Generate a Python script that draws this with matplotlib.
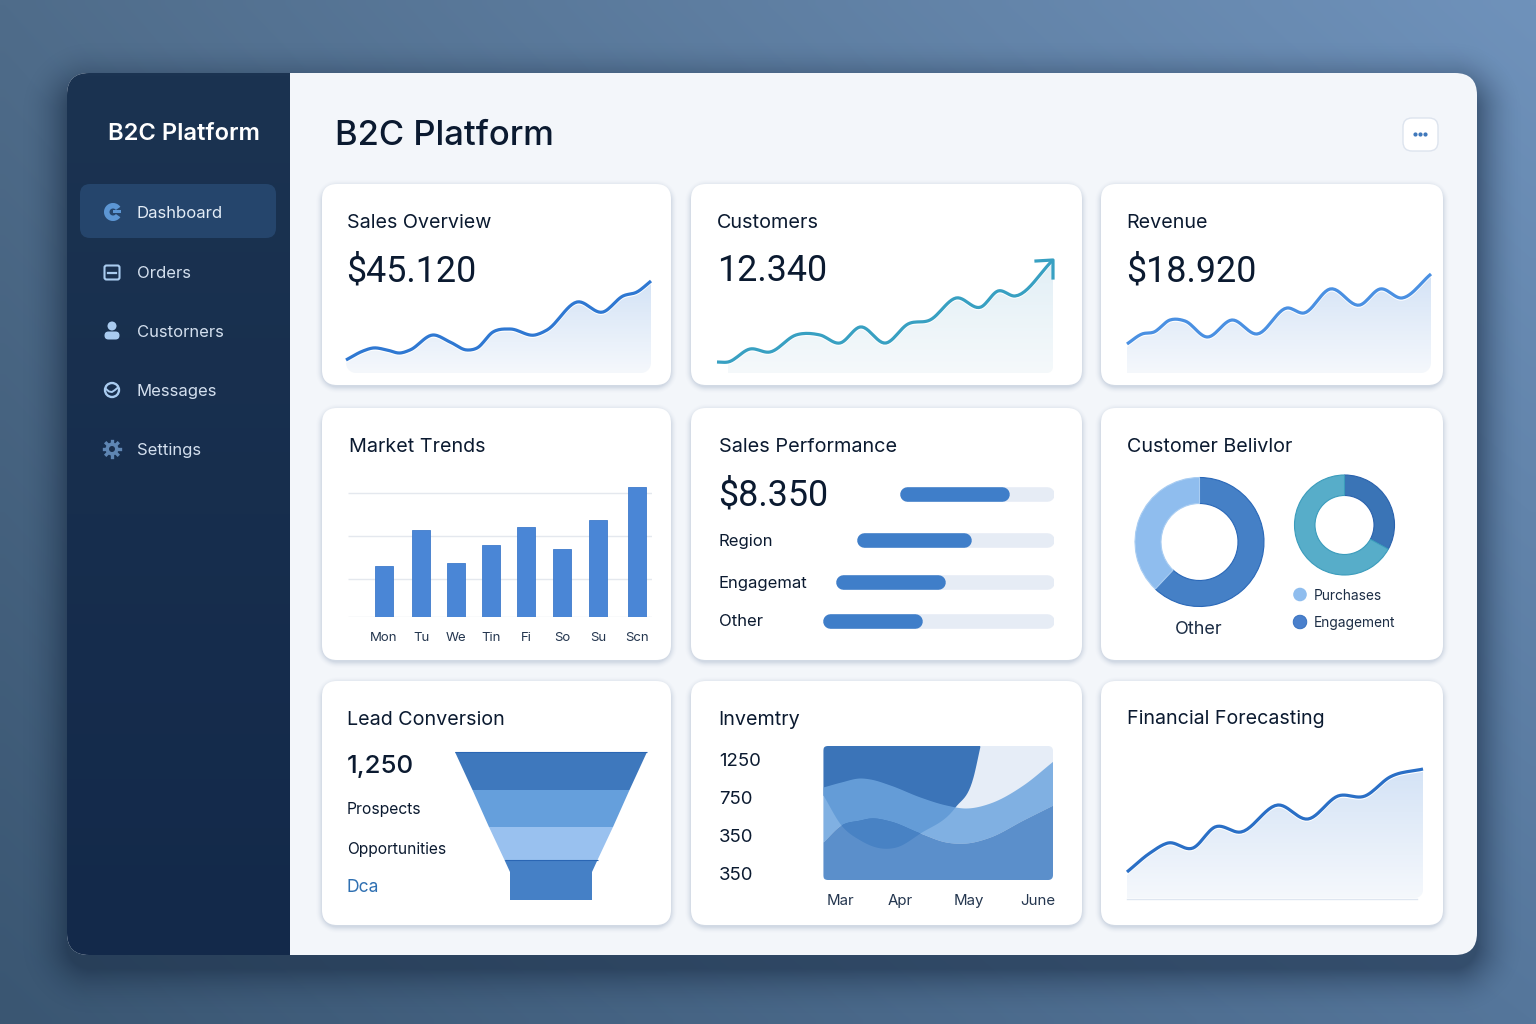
#!/usr/bin/env python3
"""B2C Platform dashboard mockup drawn with matplotlib."""

import numpy as np
import matplotlib
matplotlib.use("Agg")
import matplotlib.pyplot as plt
from matplotlib.patches import FancyBboxPatch, Circle, Polygon, Wedge, Rectangle
from matplotlib.colors import to_rgb

W, H = 1536, 1024
plt.rcParams['font.family'] = ['Inter', 'DejaVu Sans']

# ---- data ----
sales_x = [0, 17, 27, 41, 54, 64, 87, 104, 121, 131, 147, 164, 189, 201, 231, 257, 277, 291, 305]
sales_y = [13, 22, 25, 23, 20, 23, 38, 31, 23, 25, 41, 44, 38, 43, 71, 61, 77, 81, 92]

customers_x = [0, 11, 33, 53, 79, 103, 123, 143, 169, 191, 213, 239, 264, 281, 298, 336]
customers_y = [11, 11, 24, 21, 38, 38, 30, 46, 30, 49, 53, 75, 66, 82, 77, 113]

revenue_x = [0, 15, 27, 43, 58, 80, 105, 130, 160, 177, 203, 233, 253, 275, 304]
revenue_y = [29, 39, 41, 53, 52, 36, 53, 39, 65, 60, 84, 68, 84, 75, 99]

forecast_x = [0, 23, 41, 66, 88, 114, 151, 181, 211, 238, 263, 296]
forecast_y = [26, 45, 55, 50, 71, 66, 93, 79, 102, 102, 121, 129]

market_days = ['Mon', 'Tu', 'We', 'Tin', 'Fi', 'So', 'Su', 'Scn']
market_pos = [36, 73, 108, 143, 178, 214, 250, 289]
market_vals = [51, 87, 54, 72, 90, 68, 97, 130]
market_grid = [0, 38, 81, 124]

perf_labels = ['Region', 'Engagemat', 'Other']
perf_vals = [0.71, 0.58, 0.50, 0.43]

donut_left = [62, 38]
donut_right = [33, 67]

funnel_widths = [192, 157, 124, 93, 82, 82]
funnel_levels = [148, 110, 73, 40, 28, 0]

inv_x = [0, 18, 37, 47, 67, 97, 123, 143, 167, 200, 230]
inv_top = [93, 98, 102, 101, 95, 83, 75, 72, 77, 95, 119]  # band upper edge
inv_low = [38, 55, 60, 62, 59, 47, 38, 37, 43, 60, 75]     # band lower edge
blob_x = [0, 18, 37, 58, 73, 97, 132, 150, 157]
blob_low = [85, 55, 40, 32, 33, 47, 73, 103, 134]
inv_ticks = ['1250', '750', '350', '350']
inv_months = ['Mar', 'Apr', 'May', 'June']

nav_items = ['Dashboard', 'Orders', 'Custorners', 'Messages', 'Settings']

DARK = '#0b1a30'
NUM_FONT = ['Roboto', 'DejaVu Sans']


def px_axes(x0, y0, x1, y1, zorder=5):
    ax = fig.add_axes([x0 / W, 1 - y1 / H, (x1 - x0) / W, (y1 - y0) / H], zorder=zorder)
    ax.set_axis_off()
    ax.patch.set_alpha(0)
    return ax


def smooth(x, y, n=12):
    """Hermite curve through the read points, only to draw them without kinks."""
    x, y = np.asarray(x, float), np.asarray(y, float)
    m = np.gradient(y, x)
    xs, ys = [], []
    for i in range(len(x) - 1):
        t = np.linspace(0, 1, n, endpoint=False)
        h = x[i + 1] - x[i]
        ys.append((2*t**3 - 3*t**2 + 1) * y[i] + (t**3 - 2*t**2 + t) * h * m[i]
                  + (-2*t**3 + 3*t**2) * y[i + 1] + (t**3 - t**2) * h * m[i + 1])
        xs.append(x[i] + t * h)
    return np.append(np.concatenate(xs), x[-1]), np.append(np.concatenate(ys), y[-1])


def rounded_rect_dist(X, Y, x0, y0, x1, y1, r):
    cx, cy = (x0 + x1) / 2, (y0 + y1) / 2
    qx = np.abs(X - cx) - (x1 - x0) / 2 + r
    qy = np.abs(Y - cy) - (y1 - y0) / 2 + r
    return np.hypot(np.maximum(qx, 0), np.maximum(qy, 0)) + np.minimum(np.maximum(qx, qy), 0) - r


def shadow(rects, color, alpha, blur, dy, r, zorder):
    X, Y = np.meshgrid(np.arange(W) + .5, np.arange(H) + .5)
    a = np.zeros((H, W))
    for (x0, x1, y0, y1) in rects:
        d = rounded_rect_dist(X, Y, x0, y0 + dy, x1, y1 + dy, r)
        a = np.maximum(a, np.clip(1 - d / blur, 0, 1) ** 2 * alpha)
    img = np.zeros((H, W, 4))
    img[..., :3] = to_rgb(color)
    img[..., 3] = a
    bg.imshow(img, extent=[0, W, H, 0], aspect='auto', zorder=zorder, interpolation='bilinear')


def vgrad(top, bottom, n=256):
    img = np.zeros((n, 1, 3))
    t = np.linspace(0, 1, n)[:, None]
    img[:, 0, :] = np.array(to_rgb(top)) * (1 - t) + np.array(to_rgb(bottom)) * t
    return img


def label(x, y, s, size, color=DARK, weight='normal', ha='left', zorder=8, family=None):
    kw = {'family': family} if family else {}
    bg.text(x, y + size * 0.13, s, fontsize=size, color=color, fontweight=weight, ha=ha, va='center', zorder=zorder, **kw)


def spark(x0, x1, base, top, xs, ys, color, rl=10, rr=10, fill_from=0, grad_top='#d4e3f6', grad_bot='#f5f8fc'):
    ax = px_axes(x0, top, x1, base)
    cx, cy = smooth(xs, ys)
    ax.set_xlim(0, x1 - x0)
    ax.set_ylim(0, base - top)
    keep = cx >= fill_from
    th = np.linspace(0, np.pi / 2, 8)
    verts = list(zip(cx[keep], cy[keep]))
    xr, xl = cx[-1], max(fill_from, cx[0])
    verts += [(xr - rr + rr * np.cos(t), rr - rr * np.sin(t)) for t in th]
    verts += [(xl + rl - rl * np.sin(t), rl - rl * np.cos(t)) for t in th]
    poly = Polygon(verts, closed=True, fc='none', ec='none', transform=ax.transData)
    ax.add_patch(poly)
    im = ax.imshow(vgrad(grad_top, grad_bot), extent=[0, x1 - x0, 0, max(ys)], aspect='auto', zorder=1)
    im.set_clip_path(poly)
    ax.set_xlim(0, x1 - x0)
    ax.set_ylim(0, base - top)
    ax.plot(cx, cy - 1.2, color='white', lw=2.2, zorder=2, clip_on=False)
    ax.plot(cx, cy, color=color, lw=2.3, zorder=3, solid_capstyle='butt', clip_on=False)
    return ax


fig = plt.figure(figsize=(W / 100, H / 100), dpi=100)
bg = fig.add_axes([0, 0, 1, 1], zorder=0)
bg.set_axis_off()

# ---- backdrop ----
u, v = np.meshgrid(np.linspace(0, 1, 160), np.linspace(0, 1, 110))
corners = [to_rgb(c) for c in ('#4f6c8a', '#6f92bb', '#3a5672', '#55769b')]
back = np.zeros((110, 160, 3))
for k in range(3):
    back[..., k] = ((1 - u) * (1 - v) * corners[0][k] + u * (1 - v) * corners[1][k]
                    + (1 - u) * v * corners[2][k] + u * v * corners[3][k])
bg.imshow(back, extent=[0, W, H, 0], aspect='auto', zorder=0, interpolation='bilinear')

# ---- panel and sidebar ----
shadow([(67, 1477, 73, 955)], '#14263e', 0.5, 48, 14, 24, 1)
panel = FancyBboxPatch((67 + 22, 73 + 22), 1410 - 44, 882 - 44, boxstyle='round,pad=22,rounding_size=22',
                       fc='#f3f6fa', ec='none', zorder=2)
bg.add_patch(panel)
side = bg.imshow(vgrad('#1b3351', '#13294a'), extent=[67, 290, 955, 73], aspect='auto', zorder=3)
side.set_clip_path(panel)
bg.set_xlim(0, W)
bg.set_ylim(H, 0)

active = FancyBboxPatch((90, 194), 176, 34, boxstyle='round,pad=10,rounding_size=10', fc='#25456c', ec='none', zorder=4)
bg.add_patch(active)
label(108, 132, 'B2C Platform', 17.1, 'white', 'semibold')
label(335, 133, 'B2C Platform', 24.9, DARK, 'medium')
for name, y in zip(nav_items, [212, 272, 331, 390, 449]):
    label(137, y, name, 12, '#e3ecf6' if name == 'Dashboard' else '#d3dfee')

# sidebar icons
ICON = '#a9cbef'
bg.add_patch(Wedge((113, 212), 9, 35, 325, width=5.5, fc='#5c96d4', ec='none', zorder=6))
bg.add_patch(Rectangle((113, 210), 8, 3, fc='#5c96d4', ec='none', zorder=6))
bg.add_patch(FancyBboxPatch((106, 267), 12, 11, boxstyle='round,pad=1.5,rounding_size=2', fc='none', ec=ICON, lw=1.5, zorder=6))
bg.plot([108, 116], [272.5, 272.5], color=ICON, lw=1.6, zorder=6)
bg.add_patch(Circle((112, 326), 4.5, fc=ICON, ec='none', zorder=6))
bg.add_patch(FancyBboxPatch((106, 333), 12, 5, boxstyle='round,pad=1.5,rounding_size=4', fc=ICON, ec='none', zorder=6))
bg.add_patch(Circle((112, 390), 7, fc='none', ec=ICON, lw=1.7, zorder=6))
bg.plot([106, 109, 112, 115, 118], [389, 391.5, 392, 390, 387.5], color=ICON, lw=1.4, zorder=6)
for ang in np.arange(0, 360, 45):
    c, s = np.cos(np.radians(ang)), np.sin(np.radians(ang))
    bg.plot([112 + 6 * c, 112 + 8 * c], [449 + 6 * s, 449 + 8 * s], color='#5f86b3', lw=2.4, zorder=6)
bg.add_patch(Circle((112, 449), 6.5, fc='#5f86b3', ec='none', zorder=6))
bg.add_patch(Circle((112, 449), 3, fc='#1a2f4d', ec='none', zorder=6))

# "..." button
bg.add_patch(FancyBboxPatch((1411, 126), 19, 17, boxstyle='round,pad=8,rounding_size=9', fc='white', ec='#dde4ee', lw=1, zorder=4))
bg.scatter([1415, 1420, 1425], [134, 134, 134], s=4, color='#3f78bb', zorder=5)

# ---- cards ----
cards = [(322, 671, 184, 385), (691, 1082, 184, 385), (1101, 1443, 184, 385),
         (322, 671, 408, 660), (691, 1082, 408, 660), (1101, 1443, 408, 660),
         (322, 671, 681, 925), (691, 1082, 681, 925), (1101, 1443, 681, 925)]
shadow(cards, '#8496b3', 0.3, 7, 2, 15, 4)
for x0, x1, y0, y1 in cards:
    bg.add_patch(FancyBboxPatch((x0 + 15, y0 + 15), x1 - x0 - 30, y1 - y0 - 30, boxstyle='round,pad=15,rounding_size=15',
                                fc='white', ec='none', zorder=4.5))

# ---- top row ----
label(347, 221, 'Sales Overview', 14.2)
label(346, 268, '$45.120', 25.8, family=NUM_FONT)
spark(346, 651, 373, 273, sales_x, sales_y, '#2f78d2')

label(717, 221, 'Customers', 14.3)
label(717, 268, '12.340', 25.8, family=NUM_FONT)
ax_c = spark(717, 1053, 373, 253, customers_x, customers_y, '#38a0c2', rl=0, rr=6, fill_from=11,
             grad_top='#e2eff6', grad_bot='#f5f9fb')
tx, ty = customers_x[-1], customers_y[-1]
ax_c.plot([tx - 17, tx, tx], [ty - 1, ty, ty - 18], color='#38a0c2', lw=2.3, clip_on=False, zorder=4)

label(1126, 221, 'Revenue', 14.2)
label(1126, 268, '$18.920', 25.8, family=NUM_FONT)
spark(1127, 1431, 373, 273, revenue_x, revenue_y, '#4a90e2', rl=0, rr=10)

# ---- market trends ----
label(349, 445, 'Market Trends', 14.2)
ax_m = px_axes(348, 485, 652, 617)
ax_m.set_axis_on()
ax_m.bar(market_pos, market_vals, width=18, color='#4a86d6', edgecolor='#3f7bcb', lw=0.6, zorder=3)
ax_m.hlines(market_grid, 0, 304, color='#e4e8ee', lw=1, zorder=1)
ax_m.set_xlim(0, 304)
ax_m.set_ylim(0, 132)
ax_m.set_yticks([])
ax_m.set_xticks(market_pos, market_days)
ax_m.tick_params(axis='x', length=0, pad=11, labelsize=9.5, labelcolor='#24364f')
for sp in ax_m.spines.values():
    sp.set_visible(False)

# ---- sales performance ----
label(719, 445, 'Sales Performance', 14.3)
label(718, 492, '$8.350', 25.8, family=NUM_FONT)
for name, y in zip(perf_labels, [540, 582, 620]):
    label(719, y, name, 12)
for (start, yc), val in zip([(900, 494), (857, 540), (836, 582), (823, 621)], perf_vals):
    ax_p = px_axes(start, yc - 8, 1054, yc + 8)
    ax_p.set_xlim(0, 1)
    ax_p.set_ylim(-1, 1)
    cap = 7 / (1054 - start)
    ax_p.plot([cap, 1 - cap], [0, 0], color='#e6ecf5', lw=10.5, solid_capstyle='round', zorder=1)
    ax_p.plot([cap, val - cap], [0, 0], color='#3f7ec9', lw=10.5, solid_capstyle='round', zorder=2)

# ---- customer behaviour ----
label(1127, 445, 'Customer Belivlor', 14.2)


def donut(cx, cy, r, hole, vals, colors, edges):
    pad = r + 2
    ax = px_axes(cx - pad, cy - pad, cx + pad, cy + pad)
    wedges, _ = ax.pie(vals, startangle=90, counterclock=False, colors=colors, radius=r,
                       wedgeprops=dict(width=r - hole, linewidth=0.8))
    for w, e in zip(wedges, edges):
        w.set_edgecolor(e)
    ax.set_xlim(-pad, pad)
    ax.set_ylim(-pad, pad)


donut(1199.5, 542, 64.5, 38.5, donut_left, ['#4580c6', '#8fbdee'], ['#2a68b8', '#a9cdf2'])
donut(1344.5, 525, 50, 29.5, donut_right, ['#3a74b6', '#57adc9'], ['#2a62ad', '#3b9cbc'])
label(1199, 628, 'Other', 13, '#1c2d45', ha='center')
bg.add_patch(Circle((1300, 594.5), 6.8, fc='#8fbdee', ec='none', zorder=7))
bg.add_patch(Circle((1300, 622), 6.8, fc='#4a80cc', ec='#2f6bbc', lw=0.6, zorder=7))
label(1314, 594.5, 'Purchases', 9.9, '#1c2d45')
label(1314, 622, 'Engagement', 9.9, '#1c2d45')

# ---- lead conversion ----
label(347, 718, 'Lead Conversion', 14.2)
label(347, 764, '1,250', 18.6, DARK, 'medium')
label(347, 808, 'Prospects', 11.3)
label(347, 848, 'Opportunities', 11.2)
label(347, 886, 'Dca', 12.6, '#2f70b2')
ax_f = px_axes(450, 750, 652, 902)
ax_f.set_xlim(-101, 101)
ax_f.set_ylim(-2, 150)
tier_colors = ['#3e78bd', '#659fdc', '#99c1ef', '#4580c6', '#4580c6']
for i, col in enumerate(tier_colors):
    w0, w1 = funnel_widths[i] / 2, funnel_widths[i + 1] / 2
    y0, y1 = funnel_levels[i], funnel_levels[i + 1]
    ax_f.fill([-w0, w0, w1, -w1], [y0, y0, y1, y1], color=col, lw=0, zorder=2)
ax_f.hlines(funnel_levels[0], -funnel_widths[0] / 2, funnel_widths[0] / 2, color='#2a66b4', lw=0.8, zorder=3)
ax_f.hlines(funnel_levels[3], -funnel_widths[3] / 2, funnel_widths[3] / 2, color='#2a66b4', lw=0.8, zorder=3)

# ---- inventory ----
label(718.5, 718, 'Invemtry', 14.2)
for s, y in zip(inv_ticks, [760, 798, 836, 874]):
    label(719, y, s, 13.4)
for s, x in zip(inv_months, [840, 900, 969, 1038]):
    label(x, 900, s, 10.8, '#24364f', ha='center')
ax_i = px_axes(823, 746, 1053, 880)
ax_i.set_xlim(0, 230)
ax_i.set_ylim(0, 134)
clip = FancyBboxPatch((5, 5), 220, 124, boxstyle='round,pad=5,rounding_size=5', fc='#e6edf7', ec='none', zorder=1)
ax_i.add_patch(clip)
bx, by = smooth(blob_x, blob_low)
lay1 = ax_i.fill_between(bx, by, 134, color='#3b74b8', lw=0, zorder=2)
ix, it = smooth(inv_x, inv_top)
_, il = smooth(inv_x, inv_low)
lay2 = ax_i.fill_between(ix, il, it, color='#6da5de', alpha=0.84, lw=0, zorder=3)
lay3 = ax_i.fill_between(ix, 0, il, color='#4a84c6', alpha=0.89, lw=0, zorder=4)
for lay in (lay1, lay2, lay3):
    lay.set_clip_path(clip)

# ---- financial forecasting ----
label(1127, 717, 'Financial Forecasting', 14.15)
spark(1127, 1423, 898, 763, forecast_x, forecast_y, '#2a6fc6', rl=0, rr=8)
bg.plot([1127, 1417], [899, 899], color='#dfe6f0', lw=1, zorder=6)

bg.set_xlim(0, W)
bg.set_ylim(H, 0)
fig.savefig('out.png', dpi=100)
